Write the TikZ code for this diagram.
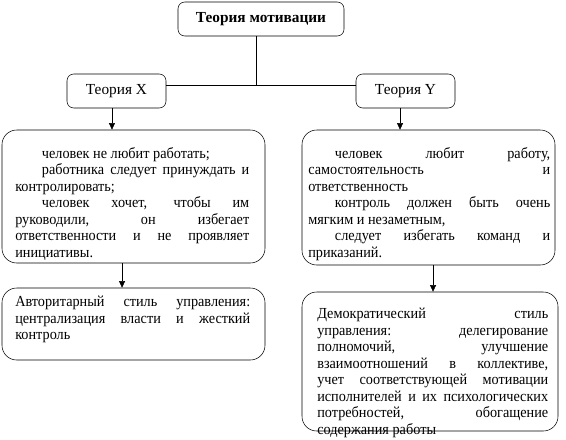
\documentclass[tikz,border=0pt]{standalone}
\usepackage{fontspec}
\setmainfont{Liberation Serif}
\newfontfamily\narrowserif[FakeStretch=0.93]{Liberation Serif}
\usetikzlibrary{arrows.meta, positioning, calc}
\newcommand{\boxfont}{\fontsize{11.5pt}{12.4pt}\selectfont}
\newcommand{\bodyfont}{\narrowserif\fontsize{11.5pt}{12.4pt}\selectfont}
\newcommand{\ind}{\hspace*{20pt}}

\begin{document}
\begin{tikzpicture}[
  x=0.75pt, y=-0.75pt,
  hbox/.style={draw, rounded corners=5pt, inner sep=0pt, font=\boxfont},
  bigbox/.style={draw, rounded corners=11pt, inner sep=0pt},
  txt/.style={anchor=north west, inner sep=0pt, align=justify, font=\bodyfont},
  arr/.style={-{Triangle[length=5pt, width=4.5pt]}}
]
  \useasboundingbox (0,0) rectangle (566,439);

  % headings
  \node[hbox, minimum width=124.5pt, minimum height=25.5pt, font=\boxfont\bfseries] (theory) at (261,19) {Теория мотивации};
  \node[hbox, minimum width=74.25pt, minimum height=25.5pt] (tx) at (116.5,91) {Теория X};
  \node[hbox, minimum width=74.25pt, minimum height=25.5pt] (ty) at (405.5,91) {Теория Y};
  \coordinate (hub) at (256,85);
  \draw (theory.south -| hub) -- (hub);
  \draw (tx.east |- hub) -- (ty.west |- hub);

  % theory X
  \node[bigbox, minimum width=197.25pt, minimum height=99.75pt] (xbox) at (133.5,196.5) {};
  \node[txt, text width=175.5pt] (xtext) at (15,147) {
    \ind человек не любит работать;\par
    \ind работника следует принуждать и\linebreak контролировать;\par
    \ind человек хочет, чтобы им\linebreak руководили, он избегает\linebreak ответственности и не проявляет\linebreak инициативы.};
  \node[bigbox, minimum width=197.25pt, minimum height=54pt] (xstyle) at (133.5,324) {};
  \node[txt, text width=176.25pt] (xstyletext) at (15,296) {
    Авторитарный стиль управления:\linebreak централизация власти и жесткий\linebreak контроль};

  % theory Y
  \node[bigbox, minimum width=189.75pt, minimum height=101.25pt] (ybox) at (428.5,197.5) {};
  \node[txt, text width=181.5pt] (ytext) at (308,147) {
    \ind человек любит работу,\linebreak самостоятельность и\linebreak ответственность\par
    \ind контроль должен быть очень\linebreak мягким и незаметным,\par
    \ind следует избегать команд и\linebreak приказаний.};
  \node[bigbox, minimum width=192pt, minimum height=104.25pt] (ystyle) at (430,361.5) {};
  \node[txt, text width=173.25pt] (ystyletext) at (317,308) {
    Демократический стиль\linebreak управления: делегирование\linebreak полномочий, улучшение\linebreak взаимоотношений в коллективе,\linebreak учет соответствующей мотивации\linebreak исполнителей и их психологических\linebreak потребностей, обогащение\linebreak содержания работы};

  \draw[arr] ([xshift=-3.4pt]tx.south) -- ([xshift=-3.4pt]tx.south |- xbox.north);
  \draw[arr] ([xshift=-4.1pt]ty.south) -- ([xshift=-4.1pt]ty.south |- ybox.north);
  \draw[arr] ([xshift=-8.6pt]xbox.south) -- ([xshift=-8.6pt]xbox.south |- xstyle.north);
  \draw[arr] ([xshift=3.4pt]ybox.south) -- ([xshift=3.4pt]ybox.south |- ystyle.north);
\end{tikzpicture}
\end{document}
